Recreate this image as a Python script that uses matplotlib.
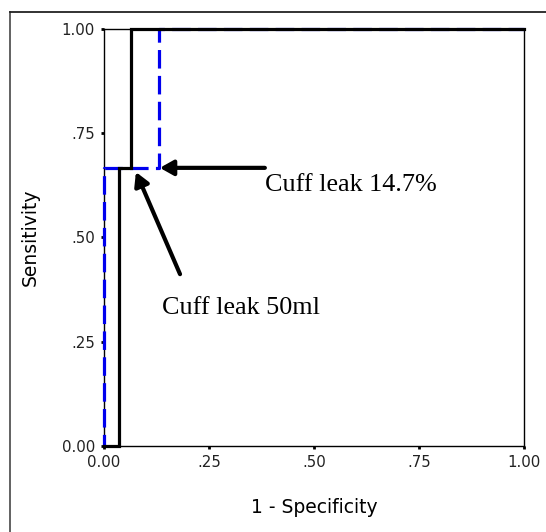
import matplotlib

matplotlib.use("Agg")
import matplotlib.pyplot as plt
from matplotlib.lines import Line2D

# ROC steps
blackX = [0.0, 0.036, 0.036, 0.064, 0.064, 1.0]
blackY = [0.0, 0.0, 0.667, 0.667, 1.0, 1.0]
blueX = [0.0, 0.0, 0.131, 0.131, 1.0]
blueY = [0.0, 0.667, 0.667, 1.0, 1.0]

tickValues = [0.0, 0.25, 0.50, 0.75, 1.0]
tickLabels = ["0.00", ".25", ".50", ".75", "1.00"]

labelPct = "Cuff leak 14.7%"
labelMl = "Cuff leak 50ml"


def runHarness():
    fig = plt.figure(figsize=(5.46, 5.32), dpi=100)
    ax = fig.add_axes([0.1905, 0.1617, 0.7692, 0.7838])

    # outer frame, open on right and bottom
    fig.add_artist(Line2D([10 / 546, 10 / 546], [0.0, 1 - 12 / 532],
                          color="#555555", linewidth=1.3, transform=fig.transFigure))
    fig.add_artist(Line2D([10 / 546, 1.0], [1 - 12 / 532, 1 - 12 / 532],
                          color="#222222", linewidth=1.3, transform=fig.transFigure))

    ax.plot(blueX, blueY, color="#0000ee", linewidth=2.3,
            linestyle=(2.17, (5.8, 2.3)), dash_capstyle="butt",
            solid_joinstyle="miter", clip_on=False, zorder=3)
    ax.plot(blackX, blackY, color="black", linewidth=2.3,
            solid_joinstyle="miter", clip_on=False, zorder=4)

    ax.set_xlim(0, 1)
    ax.set_ylim(0, 1)
    ax.set_xticks(tickValues)
    ax.set_xticklabels(tickLabels)
    ax.set_yticks(tickValues)
    ax.set_yticklabels(tickLabels)
    ax.tick_params(direction="out", length=2.5, width=2.0, pad=4,
                   labelsize=10.8, labelcolor="#222222")
    for spine in ax.spines.values():
        spine.set_linewidth(1.0)

    ax.set_xlabel("1 - Specificity", fontsize=13.5, labelpad=20)
    ax.set_ylabel("Sensitivity", fontsize=13.5, labelpad=16)

    arrowStyle = dict(arrowstyle="-|>,head_length=0.8,head_width=0.45",
                      color="black", linewidth=3.0, shrinkA=0, shrinkB=0)
    ax.annotate("", xy=(0.133, 0.667), xytext=(0.383, 0.667),
                arrowprops=arrowStyle, zorder=5)
    ax.annotate("", xy=(0.076, 0.657), xytext=(0.181, 0.412),
                arrowprops=arrowStyle, zorder=5)
    ax.text(0.383, 0.627, labelPct, family="Liberation Serif", fontsize=18.8,
            ha="left", va="center")
    ax.text(0.138, 0.331, labelMl, family="Liberation Serif", fontsize=18.8,
            ha="left", va="center")

    fig.savefig("out.png", dpi=100)
    plt.close(fig)


if __name__ == "__main__":
    runHarness()
